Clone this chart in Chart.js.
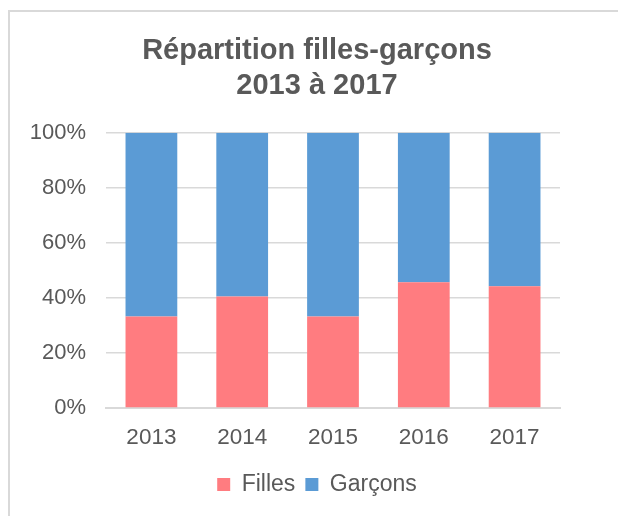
<!DOCTYPE html>
<html>
<head>
<meta charset="utf-8">
<script src="https://cdn.jsdelivr.net/npm/chart.js@4"></script>
<style>
  html, body { margin: 0; padding: 0; background: #fff; overflow: hidden; }
  #wrap { position: relative; width: 618px; height: 516px; overflow: hidden; }
  #frame { position: absolute; left: 8px; top: 10px; width: 700px; height: 600px;
           border: 2px solid #d9d9d9; box-sizing: border-box; }
  #c { position: absolute; left: 0; top: 0; }
</style>
</head>
<body>
<div id="wrap">
  <div id="frame"></div>
  <canvas id="c" width="618" height="516"></canvas>
</div>
<script>
// values (percent of each year)
const years = ["2013", "2014", "2015", "2016", "2017"]
const filles = [33.2, 40.5, 33.2, 45.7, 44.2]
const garcons = [66.8, 59.5, 66.8, 54.3, 55.8]
const yTicks = [0, 20, 40, 60, 80, 100]

const ink = "#595959"
const grid = "#d9d9d9"
const font = "Liberation Sans, Arial, sans-serif"

// Excel centres title + legend on the whole frame, not the plot: nudge the
// boxes right after layout so their centre lands where the original has it.
const shiftBlocks = {
  id: "shiftBlocks",
  afterLayout(chart) {
    if (chart.titleBlock) chart.titleBlock.left += 74
    if (chart.legend) chart.legend.left += 74
  },
}

new Chart(document.getElementById("c"), {
  type: "bar",
  plugins: [shiftBlocks],
  data: {
    labels: years,
    datasets: [
      { label: "Filles", data: filles, backgroundColor: "#ff7c80", borderWidth: 0,
        barPercentage: 0.57, categoryPercentage: 1.0 },
      { label: "Garçons", data: garcons, backgroundColor: "#5b9bd5", borderWidth: 0,
        barPercentage: 0.57, categoryPercentage: 1.0 },
    ],
  },
  options: {
    responsive: false,
    animation: false,
    layout: { padding: { left: 0, right: 58, top: 0, bottom: 10 } },
    plugins: {
      tooltip: { enabled: false },
      title: {
        display: true,
        text: ["Répartition filles-garçons", "2013 à 2017"],
        color: ink,
        font: { family: font, size: 29, weight: "bold", lineHeight: 1.22 },
        padding: { top: 33, bottom: 29 },
      },
      legend: {
        position: "bottom",
        labels: {
          color: ink,
          font: { family: font, size: 23 },
          boxWidth: 13,
          boxHeight: 13,
          padding: 10,
        },
      },
    },
    scales: {
      x: {
        stacked: true,
        grid: { display: false },
        border: { color: grid, width: 2 },
        ticks: { color: ink, font: { family: font, size: 22.5 }, padding: 8 },
        afterFit: (s) => { s.height = 55 },
      },
      y: {
        stacked: true,
        min: 0,
        max: 100,
        afterBuildTicks: (s) => { s.ticks = yTicks.map((v) => ({ value: v })) },
        grid: { color: grid, lineWidth: 1.5, drawTicks: false },
        border: { display: false },
        ticks: { color: ink, font: { family: font, size: 22 }, padding: 20,
                 callback: (v) => v + "%" },
        afterFit: (s) => { s.width = 106 },
      },
    },
  },
})
</script>
</body>
</html>
